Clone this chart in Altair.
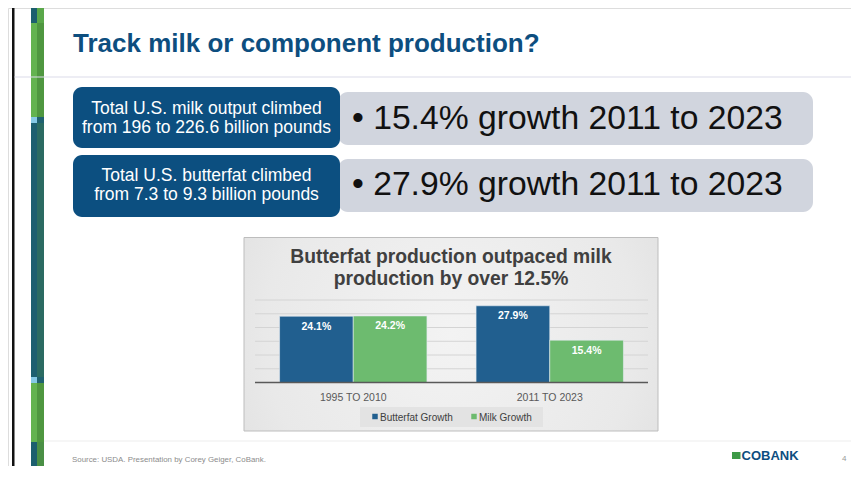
import altair as alt
import pandas as pd

# ---------------- data ----------------
periods = ["1995 TO 2010", "2011 TO 2023"]
series = ["Butterfat Growth", "Milk Growth"]
butterfat_growth = [24.1, 27.9]
milk_growth = [24.2, 15.4]
grid_ticks = [5, 10, 15, 20, 25, 30]

slide_title = "Track milk or component production?"
box_texts = [
    ["Total U.S. milk output climbed", "from 196 to 226.6 billion pounds"],
    ["Total U.S. butterfat climbed", "from 7.3 to 9.3 billion pounds"],
]
bullet_texts = ["\u2022 15.4% growth 2011 to 2023", "\u2022 27.9% growth 2011 to 2023"]
chart_title = ["Butterfat production outpaced milk", "production by over 12.5%"]
source_text = "Source: USDA. Presentation by Corey Geiger, CoBank."
logo_text = "COBANK"
page_number = "4"

# ---------------- tables ----------------
bars_df = pd.DataFrame(
    {
        "period": periods * 2,
        "series": [series[0]] * len(periods) + [series[1]] * len(periods),
        "value": butterfat_growth + milk_growth,
    }
)
one = pd.DataFrame({"k": [0]})

FONT = "Liberation Sans"
BLUE_DARK = "#0d4e7f"
BAR_BLUE = "#215f8f"
BAR_GREEN = "#6dbb6f"

x_scale = alt.Scale(domain=periods, range=[247, 640], paddingInner=0.25, paddingOuter=0.125)
xoff_scale = alt.Scale(domain=series, paddingInner=0, paddingOuter=0)
y_scale = alt.Scale(domain=[0, 30], range=[374.5, 292], nice=False, zero=True)
color_scale = alt.Scale(domain=series, range=[BAR_BLUE, BAR_GREEN])


def rect(x, x2, y, y2, **kw):
    return alt.Chart(one).mark_rect(**kw).encode(
        x=alt.value(x), x2=alt.value(x2), y=alt.value(y), y2=alt.value(y2)
    )


def label(text, x, y, **kw):
    return alt.Chart(one).mark_text(text=text, **kw).encode(x=alt.value(x), y=alt.value(y))


layers = []

# slide frame / decorative strip
layers.append(rect(4, 6.5, 0, 458, color="#111111"))
layers.append(rect(23, 29, 0, 15, color="#1c5f6e"))
layers.append(rect(29, 36, 0, 15, color="#5aa84a"))
layers.append(rect(23, 29, 15, 109, color="#63b350"))
layers.append(rect(29, 36, 15, 109, color="#4f9740"))
layers.append(rect(23, 29, 109, 115, color="#86c9e6"))
layers.append(rect(29, 36, 109, 115, color="#1f6170"))
layers.append(rect(23, 29, 115, 369, color="#1d5f70"))
layers.append(rect(29, 36, 115, 369, color="#2b6b62"))
layers.append(rect(23, 29, 369, 375, color="#86c9e6"))
layers.append(rect(29, 36, 369, 375, color="#1f6170"))
layers.append(rect(23, 29, 375, 434, color="#63b350"))
layers.append(rect(29, 36, 375, 434, color="#4f9740"))
layers.append(rect(23, 29, 434, 458, color="#1c5f6e"))
layers.append(rect(29, 36, 434, 458, color="#4a8f45"))

# separator lines
layers.append(rect(6.5, 843, 68.5, 69.5, color="#dcdbe9"))
layers.append(rect(36, 843, 432.5, 433.5, color="#ededed"))

# slide title
layers.append(label(slide_title, 65, 44, font=FONT, fontSize=26, fontWeight="bold",
                    color=BLUE_DARK, align="left", baseline="alphabetic"))

# gray bullet boxes and dark blue boxes
gray_y = [(84, 137), (151, 204)]
blue_y = [(79, 140), (147, 209)]
text_y = [106, 173]
bullet_y = [121, 187]
for i in range(2):
    layers.append(rect(330, 805, gray_y[i][0], gray_y[i][1], color="#d1d5de", cornerRadius=10))
for i in range(2):
    layers.append(rect(65, 332, blue_y[i][0], blue_y[i][1], color="#0c4f80", cornerRadius=9))
    layers.append(label(box_texts[i], 198.5, text_y[i], font=FONT, fontSize=17.5, color="white",
                        align="center", baseline="alphabetic", lineHeight=18.5))
    layers.append(label(bullet_texts[i], 344, bullet_y[i], font=FONT, fontSize=33.7, color="#111111",
                        align="left", baseline="alphabetic"))

# chart box
bg = alt.RadialGradient(
    gradient="radial",
    stops=[alt.GradientStop(color="#f3f3f3", offset=0),
           alt.GradientStop(color="#e9e9e9", offset=0.6),
           alt.GradientStop(color="#d9d9d9", offset=1)],
    x1=0.5, y1=0.5, r1=0, x2=0.5, y2=0.5, r2=0.75,
)
layers.append(rect(236, 650, 229.5, 423, fill=bg, stroke="#bdbdbd", strokeWidth=1))
layers.append(label(chart_title, 443, 255, font=FONT, fontSize=19.3, fontWeight="bold",
                    color="#404040", align="center", baseline="alphabetic", lineHeight=22))

# gridlines and baseline
layers.append(
    alt.Chart(pd.DataFrame({"tick": grid_ticks})).mark_rule(color="#d4d4d4", strokeWidth=1).encode(
        y=alt.Y("tick:Q", scale=y_scale, axis=None), x=alt.value(247), x2=alt.value(640)
    )
)

# bars
bars = alt.Chart(bars_df).mark_bar(stroke="#e4ebf2", strokeWidth=0.6).encode(
    x=alt.X("period:N", scale=x_scale, axis=None, sort=periods),
    xOffset=alt.XOffset("series:N", scale=xoff_scale, sort=series),
    y=alt.Y("value:Q", scale=y_scale, axis=None),
    color=alt.Color("series:N", scale=color_scale, legend=None),
)
layers.append(bars)

layers.append(
    alt.Chart(pd.DataFrame({"tick": [0]})).mark_rule(color="#595959", strokeWidth=1.5).encode(
        y=alt.Y("tick:Q", scale=y_scale, axis=None), x=alt.value(247), x2=alt.value(640)
    )
)

bar_labels = alt.Chart(bars_df).transform_calculate(
    label="format(datum.value, '.1f') + '%'"
).mark_text(font=FONT, fontSize=10.5, fontWeight="bold", color="white",
            baseline="alphabetic", dy=13.5).encode(
    x=alt.X("period:N", scale=x_scale, axis=None, sort=periods),
    xOffset=alt.XOffset("series:N", scale=xoff_scale, sort=series),
    y=alt.Y("value:Q", scale=y_scale, axis=None),
    text="label:N",
)
layers.append(bar_labels)

# category labels
layers.append(
    alt.Chart(pd.DataFrame({"period": periods})).mark_text(
        font=FONT, fontSize=10.5, color="#595959", baseline="alphabetic"
    ).encode(
        x=alt.X("period:N", scale=x_scale, axis=None, sort=periods),
        y=alt.value(393),
        text="period:N",
    )
)

# legend
layers.append(rect(352, 535, 399, 419, color="#e3e3e3"))
legend_sym_x = [367, 466]
legend_txt_x = [372, 471]
for i, s in enumerate(series):
    layers.append(
        alt.Chart(pd.DataFrame({"series": [s]})).mark_square(size=30, opacity=1).encode(
            x=alt.value(legend_sym_x[i]), y=alt.value(408.5),
            color=alt.Color("series:N", scale=color_scale, legend=None),
        )
    )
    layers.append(label(s, legend_txt_x[i], 413, font=FONT, fontSize=10, color="#404040",
                        align="left", baseline="alphabetic"))

# footer
layers.append(label(source_text, 64, 454, font=FONT, fontSize=7.9, color="#8c8c8c",
                    align="left", baseline="alphabetic"))
layers.append(rect(724, 732.5, 444, 451, color="#3e9a47"))
layers.append(label(logo_text, 733.5, 451.5, font=FONT, fontSize=13, fontWeight="bold",
                    color=BLUE_DARK, align="left", baseline="alphabetic"))
layers.append(label(page_number, 834, 453, font=FONT, fontSize=8, color="#999999",
                    align="left", baseline="alphabetic"))

chart = alt.layer(*layers).properties(
    width=843, height=458, padding=0, autosize=alt.AutoSizeParams(type="none")
).configure_view(stroke=None).configure(background="white", font=FONT)

chart.save("out.html", embed_options={"renderer": "svg", "actions": False})
